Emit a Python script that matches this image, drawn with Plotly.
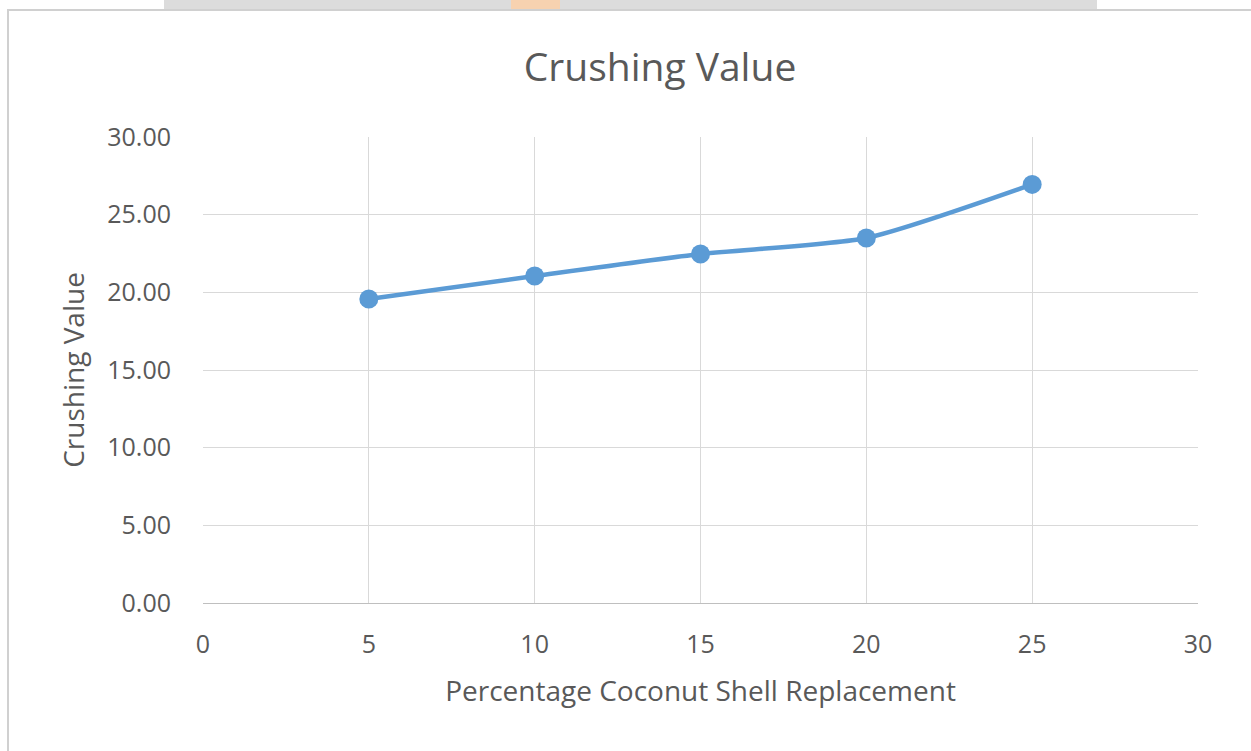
import plotly.graph_objects as go

x_vals = [5, 10, 15, 20, 25]
crushing = [19.57, 21.05, 22.47, 23.5, 26.95]
x_ticks = [0, 5, 10, 15, 20, 25, 30]
y_ticks = [0, 5, 10, 15, 20, 25, 30]
y_labels = ["0.00", "5.00", "10.00", "15.00", "20.00", "25.00", "30.00"]

L, R, T, B = 203, 53, 137, 148
W, H = 1251, 751
pw, ph = W - L - R, H - T - B

def px_x(p):
    return (p - L) / pw

def px_y(p):
    return (H - B - p) / ph

fig = go.Figure()
fig.add_trace(go.Scatter(
    x=x_vals, y=crushing, mode="lines+markers",
    line=dict(color="#5B9BD5", width=4.5, shape="spline", smoothing=0.6),
    marker=dict(color="#5B9BD5", size=19),
    showlegend=False, cliponaxis=False,
))

font = "Open Sans, Noto Sans, sans-serif"
fig.update_layout(
    width=W, height=H,
    margin=dict(l=L, r=R, t=T, b=B),
    paper_bgcolor="white", plot_bgcolor="white",
    font=dict(family=font, color="#595959"),
    title=dict(text="Crushing Value", xref="container", x=660 / W, xanchor="center",
               yref="container", y=1 - 67 / H, yanchor="middle",
               font=dict(size=39, color="#595959")),
    xaxis=dict(range=[0, 30], tickvals=x_ticks, ticktext=[str(v) for v in x_ticks],
               showgrid=True, gridcolor="#d9d9d9", gridwidth=1,
               showline=True, linecolor="#bfbfbf", linewidth=1, zeroline=False,
               ticks="outside", ticklen=19, tickcolor="rgba(0,0,0,0)",
               tickfont=dict(size=25, color="#595959"),
               title=dict(text="Percentage Coconut Shell Replacement",
                          font=dict(size=28, color="#595959"), standoff=22)),
    yaxis=dict(range=[0, 30], tickvals=y_ticks, ticktext=y_labels,
               showgrid=True, gridcolor="#d9d9d9", gridwidth=1,
               showline=False, zeroline=False,
               ticks="outside", ticklen=26, tickcolor="rgba(0,0,0,0)",
               tickfont=dict(size=25, color="#595959"),
               title=dict(text="Crushing Value",
                          font=dict(size=28, color="#595959"), standoff=14)),
    shapes=[
        dict(type="rect", xref="paper", yref="paper",
             x0=px_x(8), x1=px_x(1260), y0=px_y(760), y1=px_y(10),
             line=dict(color="#d0d0d0", width=2), fillcolor="rgba(0,0,0,0)", layer="below"),
        dict(type="rect", xref="paper", yref="paper",
             x0=px_x(164), x1=px_x(1097), y0=px_y(9), y1=px_y(-2),
             line=dict(width=0), fillcolor="#dcdcdc", layer="below"),
        dict(type="rect", xref="paper", yref="paper",
             x0=px_x(511), x1=px_x(560), y0=px_y(9), y1=px_y(-2),
             line=dict(width=0), fillcolor="#f7d2b0", layer="below"),
    ],
)

fig.write_html("out.html", config={"displayModeBar": False},
               post_script="document.body.style.margin='0';")
